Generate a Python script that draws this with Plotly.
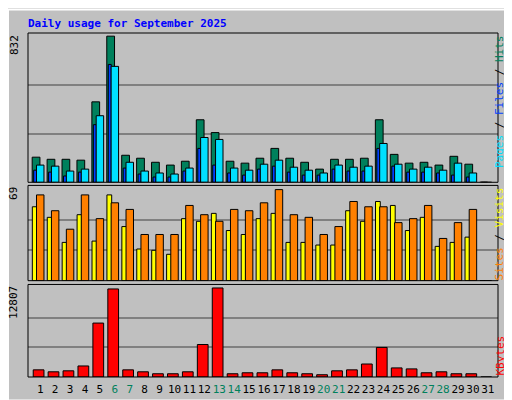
import plotly.graph_objects as go

days = list(range(1, 32))
hits = [143,131,131,126,458,832,154,137,114,98,120,356,283,120,109,137,193,137,114,75,131,131,137,356,159,109,114,98,148,103,0]
files = [98,92,64,75,379,660,114,64,53,47,81,255,244,81,69,103,126,86,69,53,98,86,92,221,103,75,86,69,109,53,0]
pages = [69,58,36,58,328,671,81,47,30,30,64,193,98,53,41,75,92,58,41,41,75,64,64,193,92,58,58,53,41,30,0]
visits = [56,48,29,50,30,65,41,24,23,20,47,45,51,38,35,47,51,29,29,27,27,53,45,60,57,38,48,26,29,33,0]
sites = [65,53,39,65,47,59,54,35,35,35,57,50,45,54,53,59,69,50,48,35,41,60,56,56,44,47,57,32,44,54,0]
kbytes = [1028,748,888,1589,7759,12666,1028,748,467,467,748,4674,12807,467,608,608,1028,608,467,327,888,1028,1870,4253,1309,1168,608,748,467,467,0]
weekend = {6,7,13,14,20,21,27,28}
ticktext = [f'<span style="color:#00805C">{d}</span>' if d in weekend else str(d) for d in days]

ln = dict(color="black", width=1)
fig = go.Figure()
def bars(vals, off, w, col, ax, name):
    fig.add_trace(go.Bar(x=[d + off for d in days], y=vals, width=w, name=name,
                         marker=dict(color=col, line=ln), xaxis="x", yaxis=ax))
bars(hits, -0.28, 0.52, "#00805C", "y", "Hits")
bars(pages, -0.34, 0.2, "#0040FF", "y", "Pages")
bars(files, 0.0, 0.5, "#00E0FF", "y", "Files")
bars(visits, -0.37, 0.32, "#FFFF00", "y2", "Visits")
bars(sites, 0.0, 0.5, "#FF8000", "y2", "Sites")
bars(kbytes, -0.11, 0.72, "#FF0000", "y3", "KBytes")

ya = dict(showticklabels=False, zeroline=False, gridcolor="#808080", gridwidth=1.5, fixedrange=True)
fig.update_layout(
    width=512, height=400, paper_bgcolor="#C0C0C0", plot_bgcolor="#C0C0C0",
    margin=dict(l=20, r=22, t=25, b=25), showlegend=False, barmode="overlay",
    font=dict(family="DejaVu Sans Mono", size=11, color="black"),
    xaxis=dict(range=[0.18, 31.68], tickvals=days, ticktext=ticktext, showgrid=False, anchor="y3",
               zeroline=False, ticks="", tickangle=0, tickfont=dict(size=11), ticklabelstandoff=4),
    yaxis=dict(domain=[0.566, 1], range=[0, 850], tickvals=[277, 555], **ya),
    yaxis2=dict(domain=[0.28, 0.557], range=[0, 72.2], tickvals=[23, 46], **ya),
    yaxis3=dict(domain=[0, 0.269], range=[0, 13311], tickvals=[4269, 8538], **ya),
)
for dom in ([0.566, 1], [0.28, 0.557], [0, 0.269]):
    fig.add_shape(type="rect", xref="paper", yref="paper", x0=0, x1=1, y0=dom[0], y1=dom[1],
                  line=dict(color="black", width=1))
fig.add_shape(type="rect", xref="paper", yref="paper", x0=-20/470, x1=1+21/470, y0=-24/350, y1=1+24/350,
              line=dict(color="white", width=2))
ann = [
    dict(y=1, text="832"),
    dict(y=0.557, text="69"),
    dict(y=0.269, text="12807"),
]
for a in ann:
    fig.add_annotation(xref="paper", yref="paper", x=-14/470, y=a["y"], text=a["text"], textangle=-90,
                       showarrow=False, yanchor="top", xanchor="center", font=dict(size=11))
fig.add_annotation(xref="paper", yref="paper", x=1+10/470, y=1, yanchor="top", textangle=-90, showarrow=False,
                   text='<span style="color:#00E0FF">Pages</span> / <span style="color:#0040FF">Files</span> / <span style="color:#00805C">Hits</span>',
                   font=dict(size=11, color="black"))
fig.add_annotation(xref="paper", yref="paper", x=1+10/470, y=0.557, yanchor="top", textangle=-90, showarrow=False,
                   text='<span style="color:#FF8000">Sites</span> / <span style="color:#FFFF00">Visits</span>',
                   font=dict(size=11, color="black"))
fig.add_annotation(xref="paper", yref="paper", x=1+10/470, y=0, yanchor="bottom", textangle=-90, showarrow=False,
                   text='KBytes', font=dict(size=11, color="#FF0000"))
fig.add_annotation(xref="paper", yref="paper", x=-2/470, y=1+10/350, xanchor="left", yanchor="middle",
                   showarrow=False, text="<b>Daily usage for September 2025</b>",
                   font=dict(size=11, color="#0000FF", family="DejaVu Sans Mono"))
fig.write_html("out.html")
